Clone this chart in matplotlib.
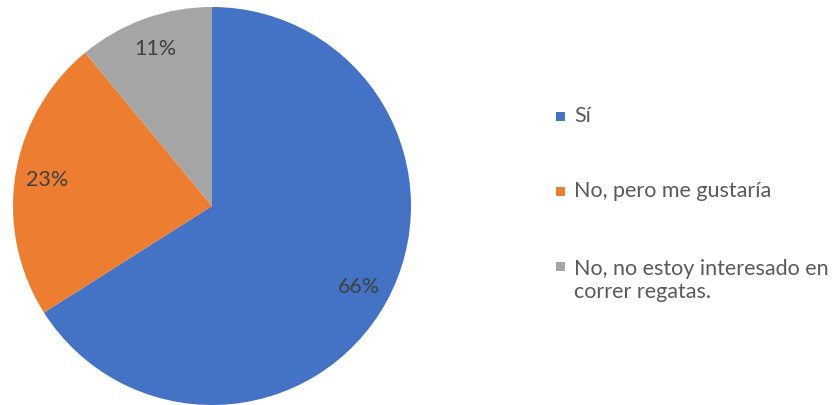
import matplotlib.pyplot as plt
from matplotlib.patches import Rectangle

labels = ["Sí", "No, pero me gustaría", "No, no estoy interesado en\ncorrer regatas."]
values = [66, 23, 11]
colors = ["#4472C4", "#ED7D31", "#A5A5A5"]

plt.rcParams['font.family'] = ['Lato', 'DejaVu Sans']

W, H = 840, 405
fig = plt.figure(figsize=(W / 100, H / 100), dpi=100)
ax = fig.add_axes([13 / W, 0, 398 / W, 398 / H])

wedges, _, autotexts = ax.pie(
    values, colors=colors, startangle=90, counterclock=False,
    autopct=lambda p: f"{p:.0f}%", pctdistance=0.84,
    wedgeprops=dict(linewidth=0),
    textprops=dict(color="#404040", fontsize=15.5),
)
ax.set_xlim(-1, 1)
ax.set_ylim(-1, 1)
ax.set_aspect("equal")

# legend drawn by hand so the marker sits on the first text line
first_line = [122, 197, 272]
line_gap = 26
for w, lab, y in zip(wedges, labels, first_line):
    fig.patches.append(Rectangle((556 / W, 1 - (y - 1) / H), 9 / W, 9 / H,
                                 transform=fig.transFigure,
                                 facecolor=w.get_facecolor(), edgecolor="none"))
    last = y + line_gap * lab.count("\n")
    fig.text(574 / W, 1 - last / H, lab, va="baseline", ha="left", fontsize=15.5,
             color="#595959", linespacing=1.2,
             transform=fig.transFigure)

fig.savefig("out.png", dpi=100)
